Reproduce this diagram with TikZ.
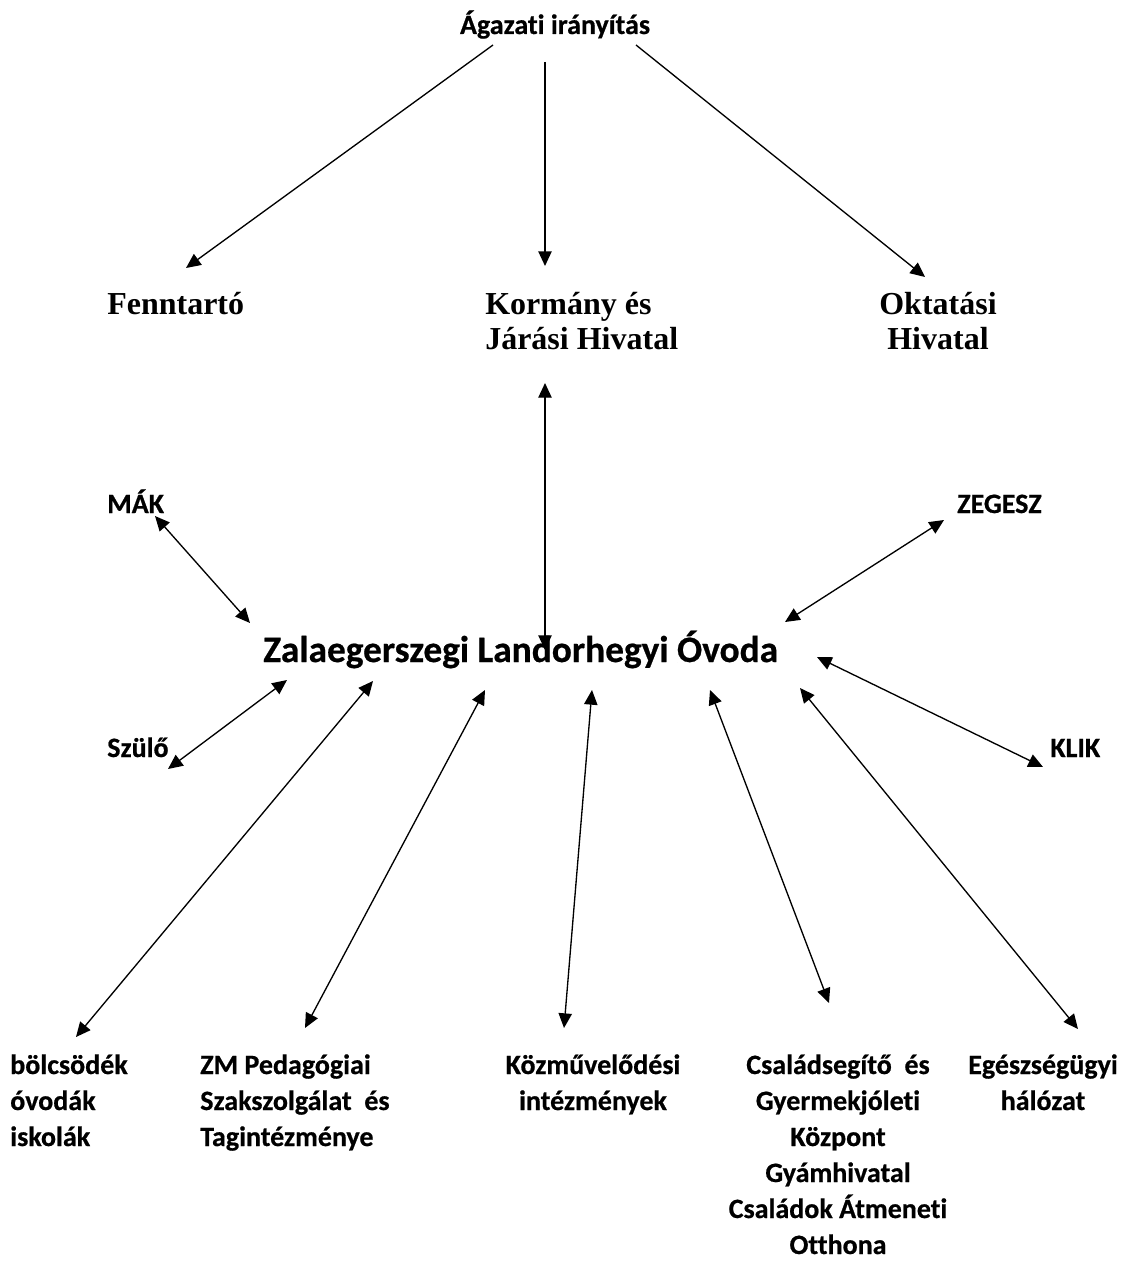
\documentclass[tikz,border=0pt]{standalone}
\usepackage{fontspec}
\usepackage{tikz}
\usetikzlibrary{arrows.meta}
\setmainfont{Carlito}[BoldFont={Carlito Bold},BoldFeatures={FakeBold=0.6},Ligatures=NoCommon]
\newfontfamily\grmfont{Liberation Serif}

\begin{document}
\begin{tikzpicture}[x=0.75pt,y=0.75pt,yscale=-1,xscale=1,
  lbl/.style={inner sep=0pt,font=\fontsize{21}{27}\selectfont\bfseries},
  srf/.style={inner sep=0pt,font=\fontsize{24}{26.25}\selectfont\grmfont\bfseries},
  big/.style={inner sep=0pt,font=\fontsize{28}{34}\selectfont\bfseries},
  tip/.style={-{Triangle[length=11pt,width=10pt]},line width=1pt},
  both/.style={{Triangle[length=11pt,width=10pt]}-{Triangle[length=11pt,width=10pt]},line width=1pt}]
\useasboundingbox (0,0) rectangle (1136,1263);

% Text Node (multi-line nodes sit on their last baseline)
    \draw (555,34) node (agazati) [lbl][anchor=base] {Ágazati irányítás};
% Text Node
    \draw (107,314) node (fenntarto) [srf][anchor=base west] {Fenntartó};
% Text Node
    \draw (485,349) node (kormany) [srf][anchor=base west][align=left] {Kormány és\\Járási Hivatal};
% Text Node
    \draw (938,349) node (oktatasi) [srf][anchor=base][align=center] {Oktatási\\Hivatal};
% Text Node
    \draw (107,513) node (mak) [lbl][anchor=base west] {MÁK};
% Text Node
    \draw (957,513) node (zegesz) [lbl][anchor=base west] {ZEGESZ};
% Text Node
    \draw (263,662) node (ovoda) [big][anchor=base west] {Zalaegerszegi Landorhegyi Óvoda};
% Text Node
    \draw (107,757) node (szulo) [lbl][anchor=base west] {Szülő};
% Text Node
    \draw (1050,757) node (klik) [lbl][anchor=base west] {KLIK};
% Text Node
    \draw (10,1146) node (bolcsi) [lbl][anchor=base west][align=left] {bölcsödék\\óvodák\\iskolák};
% Text Node
    \draw (200,1146) node (zmped) [lbl][anchor=base west][align=left] {ZM Pedagógiai\\Szakszolgálat\ \ és\\Tagintézménye};
% Text Node
    \draw (593,1110) node (kozmuv) [lbl][anchor=base][align=center] {Közművelődési\\intézmények};
% Text Node
    \draw (838,1254) node (csalad) [lbl][anchor=base][align=center] {Családsegítő\ \ és\\Gyermekjóleti\\Központ\\Gyámhivatal\\Családok Átmeneti\\Otthona};
% Text Node
    \draw (1043,1110) node (egeszseg) [lbl][anchor=base][align=center] {Egészségügyi\\hálózat};

% arrow ends
\coordinate (agazati-l) at (493,45);
\coordinate (agazati-m) at (545,62);
\coordinate (agazati-r) at (636,45);
\coordinate (fenntarto-t) at (186,268);
\coordinate (kormany-t) at (545,266);
\coordinate (kormany-b) at (545,383);
\coordinate (oktatasi-t) at (925,277);
\coordinate (mak-b) at (155,516);
\coordinate (zegesz-b) at (944,520);
\coordinate (szulo-t) at (168,769);
\coordinate (klik-t) at (1043,767);
\coordinate (bolcsi-t) at (76,1037);
\coordinate (zmped-t) at (305,1028);
\coordinate (kozmuv-t) at (564,1028);
\coordinate (csalad-t) at (829,1003);
\coordinate (egeszseg-t) at (1078,1029);
\coordinate (ovoda-n) at (545,650);
\coordinate (ovoda-nw) at (250,623);
\coordinate (ovoda-ne) at (785,622);
\coordinate (ovoda-w) at (287,680);
\coordinate (ovoda-e) at (817,657);
\coordinate (ovoda-s1) at (373,681);
\coordinate (ovoda-s2) at (485,690);
\coordinate (ovoda-s3) at (592,690);
\coordinate (ovoda-s4) at (710,690);
\coordinate (ovoda-s5) at (800,688);

% Arrows
    \draw [tip] (agazati-l) -- (fenntarto-t);
    \draw [tip] (agazati-m) -- (kormany-t);
    \draw [tip] (agazati-r) -- (oktatasi-t);
    \draw [both] (kormany-b) -- (ovoda-n);
    \draw [both] (mak-b) -- (ovoda-nw);
    \draw [both] (zegesz-b) -- (ovoda-ne);
    \draw [both] (szulo-t) -- (ovoda-w);
    \draw [both] (klik-t) -- (ovoda-e);
    \draw [both] (bolcsi-t) -- (ovoda-s1);
    \draw [both] (zmped-t) -- (ovoda-s2);
    \draw [both] (kozmuv-t) -- (ovoda-s3);
    \draw [both] (csalad-t) -- (ovoda-s4);
    \draw [both] (egeszseg-t) -- (ovoda-s5);

\end{tikzpicture}
\end{document}
